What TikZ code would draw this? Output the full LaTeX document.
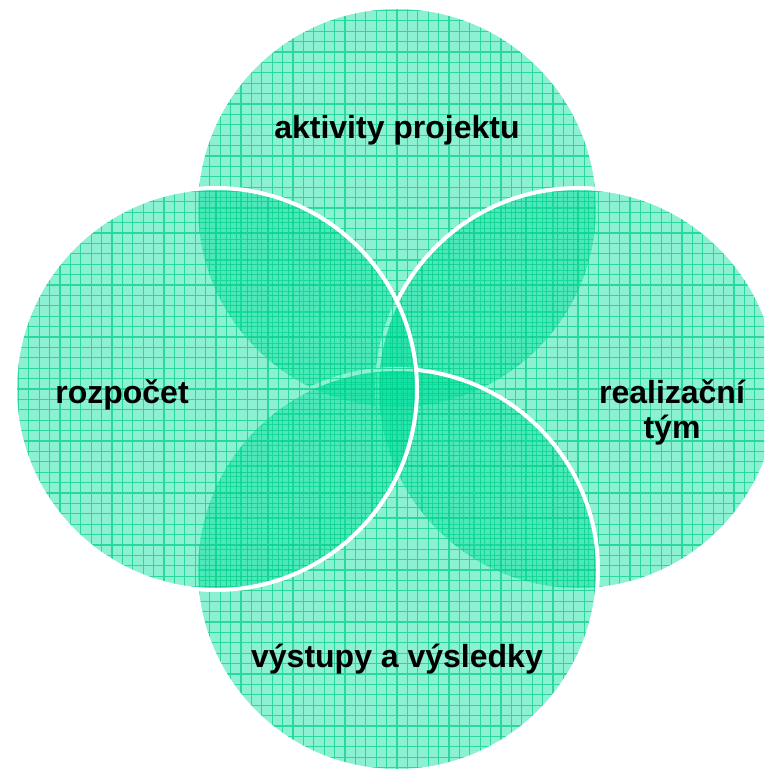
\documentclass[tikz,border=0pt]{standalone}
\usepackage{fontspec}
\setmainfont{Liberation Sans}
\usetikzlibrary{calc}
\definecolor{vfill}{RGB}{0,222,155}
\definecolor{vgrid}{RGB}{0,205,135}
\tikzset{
  venn/.style={circle, inner sep=0pt, minimum size=402pt, draw=white, line width=4pt,
    fill=vfill, fill opacity=0.45, draw opacity=1,
    path picture={
      \draw[vgrid, line width=1.1pt, draw opacity=0.7, xstep=10.4pt, ystep=10.4pt]
        ($(path picture bounding box.center)+(-210,210)$) grid
        ($(path picture bounding box.center)+(210,-210)$);
    }},
  lbl/.style={font=\bfseries\fontsize{32}{36}\selectfont, text=black, align=center, inner sep=0pt}
}
\begin{document}
\begin{tikzpicture}[x=1pt, y=-1pt]
\useasboundingbox (0,0) rectangle (764,771);
\clip (0,0) rectangle (764,771);
\node[venn] (top) at (397,208) {};
\node[venn] (right) at (578,389) {};
\node[venn] (bottom) at (397,570) {};
\node[venn] (left) at (216,389) {};
\node[lbl, anchor=base] (ta) at (397,138) {aktivity projektu};
\node[lbl, anchor=base] (tl) at (122,403) {rozpočet};
\node[lbl, anchor=base] (tr) at (672,403) {realizační};
\node[lbl, anchor=base] (tr2) at (672,438) {tým};
\node[lbl, anchor=base] (tb) at (397,667) {výstupy a výsledky};
\end{tikzpicture}
\end{document}
